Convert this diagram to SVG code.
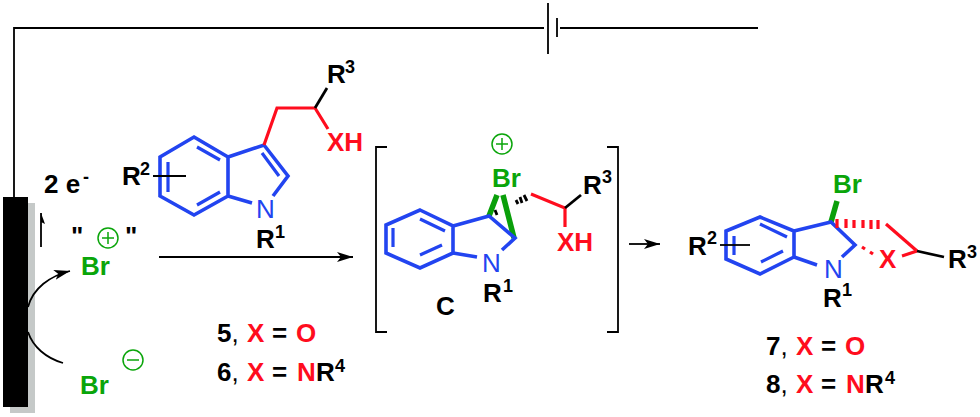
<svg xmlns="http://www.w3.org/2000/svg" width="980" height="417" viewBox="0 0 980 417">
<defs>
<marker id="ah" markerUnits="userSpaceOnUse" markerWidth="18" markerHeight="12" refX="16" refY="6" orient="auto"><path d="M0,1 L16,6 L0,11 L4,6 Z" fill="#000"/></marker>
</defs>
<style>
text{font-family:"Liberation Sans",Arial,sans-serif;font-weight:700;font-size:26px;fill:#000}
.s{font-size:18px}
.r{fill:#ff0d1e}.g{fill:#0aa50a}.n{fill:#2244f0;font-weight:400}
.bl{fill:none;stroke:#2244f0;stroke-width:3.6;stroke-linejoin:miter}
.b2{fill:none;stroke:#2244f0;stroke-width:3.2}
.rd{fill:none;stroke:#ff0d1e;stroke-width:3.2}
.k{fill:none;stroke:#000;stroke-width:1.8}
.k3{fill:none;stroke:#000;stroke-width:2.8}
.gr{fill:none;stroke:#0a9f0a;stroke-width:5.5}
.c{fill:none;stroke:#0aa50a;stroke-width:1.5}
</style>
<rect width="980" height="417" fill="#fff"/>

<g id="electrode">
<path d="M28,203H35V413H10V407H28Z" fill="#c5c9c8"/>
<rect x="3" y="197" width="25" height="210" fill="#000"/>
</g>

<g id="connectors">
<path class="k" d="M14,197V28H544M548,3V54M560,28H758"/>
<path class="k" d="M557,18V37" stroke-width="2.5"/>
<path class="k" d="M41,247V213"/><path d="M41,213L45,224L41,222Z" fill="#000"/>
<path class="k" d="M28,307C33,288 50,276 70,271" marker-end="url(#ah)"/>
<path class="k" d="M28,332C33,347 46,358 63,363"/>
<path class="k" d="M159,257H353" marker-end="url(#ah)"/>
<path class="k" d="M629,244H660" marker-end="url(#ah)"/>
</g>

<g id="label-electron"><text x="44" y="193">2 e</text><text class="s" x="83" y="183">-</text></g>

<g id="br-plus">
<text x="71" y="245">"</text><circle class="c" cx="108" cy="238" r="10"/><path class="c" d="M102,238H114M108,232V244"/><text x="125" y="245">"</text>
<text class="g" x="81" y="275">Br</text>
</g>

<g id="br-minus">
<text class="g" x="80" y="394">Br</text><circle class="c" cx="133" cy="360" r="10"/><path class="c" d="M127,360H139"/>
</g>

<g id="indole-substrate">
<path class="bl" d="M194,137L228,157V196L194,215L160,196V157ZM228,157L264,145L288,176L273,196M228,196L252,203"/>
<path class="b2" d="M197,147L220,160M168,162V192M197,205L220,192M262,153L279,176"/>
<path class="rd" d="M264,145L277,108H315L328,129"/>
<path class="k3" d="M315,108L327,88"/>
<path class="k" d="M153,176H186"/>
<text class="n" x="256" y="218">N</text>
<text x="256" y="248">R</text><text class="s" x="275" y="238">1</text>
<text x="122" y="185">R</text><text class="s" x="140" y="175">2</text>
<text x="327" y="83">R</text><text class="s" x="345" y="73">3</text>
<text class="r" x="327" y="151">XH</text>
</g>

<g id="label-5-6">
<text x="217" y="342">5<tspan font-weight="400">,</tspan></text><text class="r" x="247" y="342">X</text><text x="272" y="342">=</text><text class="r" x="296" y="342">O</text>
<text x="217" y="381">6<tspan font-weight="400">,</tspan></text><text class="r" x="247" y="381">X</text><text x="272" y="381">=</text><text class="r" x="297" y="381">N</text><text x="316" y="381">R</text><text class="s" x="335" y="372">4</text>
</g>

<g id="intermediate-c">
<path class="k" d="M387,147H376V332H387M607,147H618V332H607"/>
<circle class="c" cx="502" cy="144" r="10"/><path class="c" d="M496,144H508M502,138V150"/>
<path class="gr" d="M497,195L489,216M503,195L514,238"/>
<path class="bl" d="M420,210L453,226V253L420,268L386,253V225ZM453,226L489,216L515,238L502,250"/>
<path class="bl" d="M453,253L477,257" stroke-width="5"/>
<path class="b2" d="M420,219L445,231M393,228V247M420,255L442,245"/>
<path class="k3" d="M495,210L497,215M516,200L518,204M520,197L522,203M524,195L527,201"/>
<path class="rd" d="M531,194L565,208V227"/>
<path class="k3" d="M565,208L581,195"/>
<text class="g" x="492" y="187">Br</text>
<text class="n" x="482" y="272">N</text>
<text x="483" y="302">R</text><text class="s" x="503" y="292">1</text>
<text x="583" y="194">R</text><text class="s" x="602" y="183">3</text>
<text class="r" x="557" y="251">XH</text>
<text x="436" y="315">C</text>
</g>

<g id="indoline-product">
<path class="gr" d="M837,201L831,222"/>
<path class="bl" d="M760,217L794,231V257L760,274L726,259V231ZM794,231L831,222L855,245L842,257"/>
<path class="bl" d="M794,257L817,265" stroke-width="5"/>
<path class="b2" d="M760,224L787,237M734,236V255M761,262L783,251"/>
<path class="k" d="M720,245H750"/>
<path class="rd" d="M837,219V228M846,219V228M854,220V228M863,220V228M871,220V229M878,220V229"/>
<path class="rd" d="M862,247L865,249M870,252L873,254"/>
<path class="rd" d="M886,224L917,251"/>
<path class="rd" d="M917,251L902,256" stroke-width="5"/>
<path class="k3" d="M917,251L944,257"/>
<text class="g" x="833" y="193">Br</text>
<text class="n" x="824" y="278">N</text>
<text x="823" y="307">R</text><text class="s" x="842" y="296">1</text>
<text x="688" y="255">R</text><text class="s" x="707" y="244">2</text>
<text x="948" y="268">R</text><text class="s" x="967" y="258">3</text>
<text class="r" x="879" y="268">X</text>
</g>

<g id="label-7-8">
<text x="766" y="355">7<tspan font-weight="400">,</tspan></text><text class="r" x="796" y="355">X</text><text x="821" y="355">=</text><text class="r" x="845" y="355">O</text>
<text x="766" y="393">8<tspan font-weight="400">,</tspan></text><text class="r" x="796" y="393">X</text><text x="821" y="393">=</text><text class="r" x="846" y="393">N</text><text x="865" y="393">R</text><text class="s" x="885" y="384">4</text>
</g>
</svg>
